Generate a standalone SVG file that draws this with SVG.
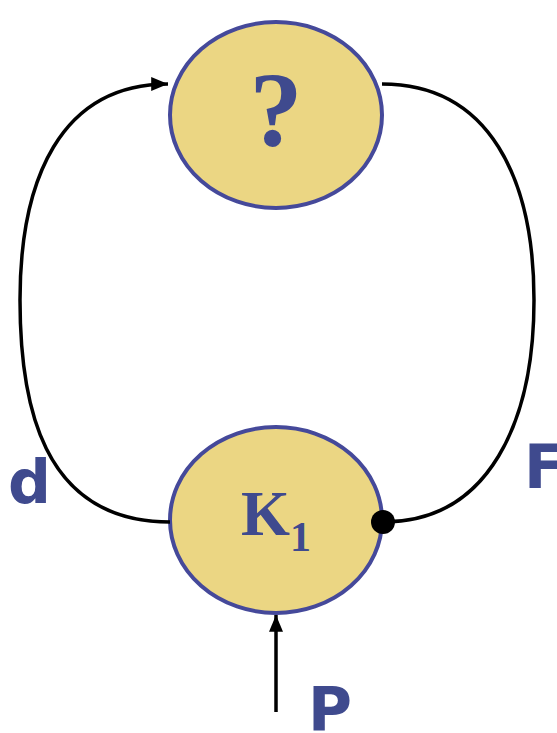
<svg xmlns="http://www.w3.org/2000/svg" width="557" height="733" viewBox="0 0 557 733">
<defs>
<style>
.node{fill:#EBD683;stroke:#45499A;stroke-width:4}
.conn{fill:none;stroke:#000;stroke-width:3.5}
.lbl{font-family:"DejaVu Sans",Verdana,sans-serif;font-weight:bold;fill:#3F4A8E;font-size:60px}
.ser{font-family:"Liberation Serif","Times New Roman",serif;font-weight:bold;fill:#3F4A8E}
</style>
<marker id="arr" viewBox="0 0 12 10" refX="12" refY="5" markerWidth="18" markerHeight="14" markerUnits="userSpaceOnUse" orient="auto">
<path d="M0,0 L12,5 L0,10 z" fill="#000"/>
</marker>
</defs>
<g id="node-top">
<ellipse class="node" cx="276" cy="115" rx="106" ry="93"/>
<text class="ser" x="276" y="146" font-size="106" text-anchor="middle">?</text>
</g>
<g id="node-k1">
<ellipse class="node" cx="276" cy="520" rx="106" ry="93"/>
<text class="ser" x="241" y="535" font-size="63">K<tspan font-size="42" dy="16">1</tspan></text>
</g>
<g id="connectors">
<path class="conn" d="M170,522 C40,522 20,400 20,300 C20,180 60,84 168,84" marker-end="url(#arr)"/>
<path class="conn" d="M382,84 C490,84 534,180 534,300 C534,420 490,522 383,522"/>
<circle cx="383" cy="522" r="12" fill="#000"/>
<line class="conn" x1="276" y1="712" x2="276" y2="615" marker-end="url(#arr)"/>
</g>
<g id="labels">
<text class="lbl" x="8" y="503">d</text>
<text class="lbl" x="524" y="488">F</text>
<text class="lbl" x="308" y="730">P</text>
</g>
</svg>
